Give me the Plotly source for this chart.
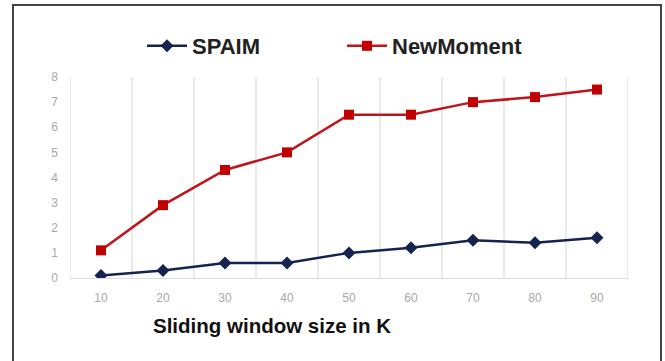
import plotly.graph_objects as go

window_k = [10, 20, 30, 40, 50, 60, 70, 80, 90]
spaim = [0.1, 0.3, 0.6, 0.6, 1.0, 1.2, 1.5, 1.4, 1.6]
newmoment = [1.1, 2.9, 4.3, 5.0, 6.5, 6.5, 7.0, 7.2, 7.5]
y_ticks = [0, 1, 2, 3, 4, 5, 6, 7, 8]
grid_bounds = [5, 15, 25, 35, 45, 55, 65, 75, 85, 95]

W, H = 665, 361
L, R, T, B = 70, 628, 77, 278  # plot area in pixels


def px_x(p):
    return (p - L) / (R - L)


def px_y(p):
    return (B - p) / (B - T)


fig = go.Figure()
fig.add_trace(go.Scatter(
    x=window_k, y=spaim, name="SPAIM", mode="lines+markers",
    line=dict(color="#14234f", width=2.5),
    marker=dict(symbol="diamond", size=10, color="#14234f"),
))
fig.add_trace(go.Scatter(
    x=window_k, y=newmoment, name="NewMoment", mode="lines+markers",
    line=dict(color="#c0141c", width=2.5),
    marker=dict(symbol="square", size=10, color="#c00000"),
))

shapes = [dict(
    type="rect", xref="paper", yref="paper",
    x0=px_x(13), x1=px_x(661), y0=px_y(368), y1=px_y(5),
    line=dict(color="#444444", width=2), layer="below",
)]
for gb in grid_bounds:
    shapes.append(dict(
        type="line", xref="x", yref="paper", x0=gb, x1=gb, y0=0, y1=1,
        line=dict(color="#e3e3e3", width=1.5), layer="below",
    ))

fig.update_layout(
    width=W, height=H,
    margin=dict(l=L, r=W - R, t=T, b=H - B, pad=0),
    paper_bgcolor="white", plot_bgcolor="white",
    font=dict(family="Liberation Sans, Arial, sans-serif"),
    showlegend=True,
    legend=dict(
        orientation="h", x=px_x(142), y=px_y(46), xanchor="left", yanchor="middle",
        font=dict(size=22, color="#222222", family="Liberation Sans, Arial, sans-serif", weight="bold"),
        entrywidth=145, entrywidthmode="pixels", itemwidth=40,
        bgcolor="rgba(0,0,0,0)",
    ),
    xaxis=dict(
        range=[5, 95], tickvals=window_k, ticktext=[str(v) for v in window_k],
        showgrid=False, zeroline=False,
        showline=True, linecolor="#dcdcdc", linewidth=1,
        tickfont=dict(size=12, color="#a8a8a8"),
        ticks="", ticklabelstandoff=9,
        fixedrange=True,
    ),
    yaxis=dict(
        range=[0, 8], tickvals=y_ticks, showgrid=False, zeroline=False,
        showline=False, tickfont=dict(size=12, color="#a8a8a8"),
        ticks="", ticklabelstandoff=11, fixedrange=True,
    ),
    annotations=[dict(
        text="<b>Sliding window size in K</b>", xref="paper", yref="paper",
        x=px_x(151), y=px_y(325), xanchor="left", yanchor="middle",
        showarrow=False, font=dict(size=20.5, color="#111111"),
    )],
    shapes=shapes,
)

fig.write_html("out.html")
